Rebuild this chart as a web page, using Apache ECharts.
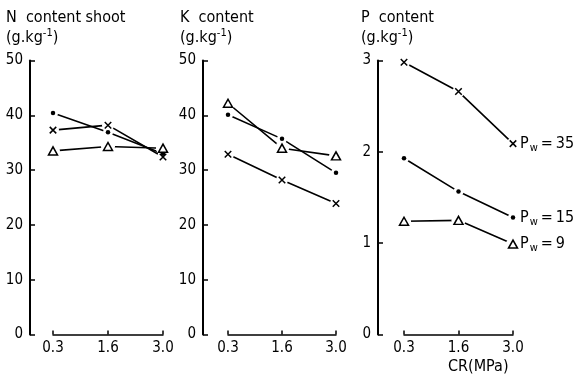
<!DOCTYPE html>
<html>
<head>
<meta charset="utf-8">
<script src="https://cdn.jsdelivr.net/npm/echarts@6/dist/echarts.min.js"></script>
<style>
html,body{margin:0;padding:0;background:#fff;}
#c{width:575px;height:377px;}
</style>
</head>
<body>
<div id="c"></div>
<script>
// ---- data ----
var categories = ['0.3', '1.6', '3.0'];
// N content shoot (g/kg)
var nDot   = [40.4, 36.9, 33.0];
var nCross = [37.3, 38.2, 32.4];
var nTri   = [33.5, 34.3, 34.0];
// K content (g/kg)
var kTri   = [42.2, 34.0, 32.6];
var kDot   = [40.1, 35.7, 29.5];
var kCross = [32.9, 28.2, 23.9];
// P content (g/kg)
var pCross = [2.98, 2.66, 2.09];
var pDot   = [1.93, 1.565, 1.28];
var pTri   = [1.24, 1.25, 0.99];
var pwLabels = ['35', '15', '9'];
var panelTitles = ['N  content shoot', 'K  content', 'P  content'];
var unitText = '(g.kg';
var xName = 'CR(MPa)';

var FONT = 'DejaVu Sans Condensed';
var grids = [
  {left: 53, right: 412, top: 60.5, bottom: 42.5},
  {left: 228, right: 239, top: 60.5, bottom: 42.5},
  {left: 404, right: 62, top: 60.5, bottom: 42.5}
];
var yOffsets = [23, 25, 26];
var yRanges = [[0, 50, 10], [0, 50, 10], [0, 3, 1]];

var crossPath = 'path://M0,0L10,10M10,0L0,10';
var markerDefs = {
  dot:   {symbol: 'circle', size: 4.5, color: '#000', border: 0, gap: 10},
  cross: {symbol: crossPath, size: 6.5, color: '#000', border: 1.5, gap: 12},
  tri:   {symbol: 'triangle', size: [9, 8], color: '#fff', border: 1.5, gap: 14}
};

var panels = [
  [['dot', nDot], ['cross', nCross], ['tri', nTri]],
  [['tri', kTri], ['dot', kDot], ['cross', kCross]],
  [['cross', pCross, pwLabels[0]], ['dot', pDot, pwLabels[1]], ['tri', pTri, pwLabels[2]]]
];

var xAxes = [], yAxes = [], series = [], titles = [];
grids.forEach(function (g, i) {
  xAxes.push({
    gridIndex: i, type: 'category', data: categories, boundaryGap: false,
    axisLine: {lineStyle: {color: '#000', width: 1.5}},
    axisTick: {inside: true, length: 4, lineStyle: {color: '#000', width: 1.5}},
    axisLabel: {color: '#000', fontFamily: FONT, fontSize: 15, margin: 6}
  });
  yAxes.push({
    gridIndex: i, type: 'value', min: yRanges[i][0], max: yRanges[i][1], interval: yRanges[i][2],
    offset: yOffsets[i], splitLine: {show: false},
    axisLine: {show: true, lineStyle: {color: '#000', width: 2}},
    axisTick: {show: true, inside: true, length: 5, lineStyle: {color: '#000', width: 1.5}},
    axisLabel: {color: '#000', fontFamily: FONT, fontSize: 15, margin: 7}
  });
  titles.push({
    text: panelTitles[i] + '\n{a|' + unitText + '}{s|-1}{a|)}',
    left: [6, 180, 361][i], top: 8, padding: 0,
    textStyle: {
      color: '#000', fontFamily: FONT, fontSize: 16, fontWeight: 'normal', lineHeight: 20,
      rich: {
        a: {color: '#000', fontFamily: FONT, fontSize: 16, lineHeight: 20},
        s: {color: '#000', fontFamily: FONT, fontSize: 11, lineHeight: 20, padding: [0, 0, 9, 0]}
      }
    }
  });
  panels[i].forEach(function (def) {
    var m = markerDefs[def[0]];
    var values = def[1];
    var lineS = {
      type: 'line', xAxisIndex: i, yAxisIndex: i, data: values, showSymbol: false, silent: true,
      lineStyle: {color: '#000', width: 1.6}, z: 2, animation: false
    };
    if (def[2] !== undefined) {
      lineS.endLabel = {
        show: true, distance: 7, color: '#000',
        formatter: '{p|P}{s|w}{e|=}{p|' + def[2] + '}',
        rich: {
          p: {fontFamily: FONT, fontSize: 16, color: '#000'},
          e: {fontFamily: FONT, fontSize: 16, color: '#000', padding: [0, 3, 0, 3]},
          s: {fontFamily: FONT, fontSize: 11, color: '#000', padding: [9, 0, 0, 1]}
        }
      };
    }
    series.push(lineS);
    series.push({
      type: 'scatter', xAxisIndex: i, yAxisIndex: i, data: values, symbol: 'circle',
      symbolSize: m.gap, itemStyle: {color: '#fff', opacity: 1}, z: 3, silent: true, animation: false
    });
    series.push({
      type: 'scatter', xAxisIndex: i, yAxisIndex: i, data: values, symbol: m.symbol,
      symbolSize: m.size, z: 4, silent: true, animation: false,
      itemStyle: {color: m.color, borderColor: '#000', borderWidth: m.border, opacity: 1}
    });
  });
});

var chart = echarts.init(document.getElementById('c'), null, {renderer: 'canvas'});
chart.setOption({
  backgroundColor: '#fff',
  animation: false,
  title: titles,
  grid: grids,
  xAxis: xAxes,
  yAxis: yAxes,
  series: series,
  graphic: [{
    type: 'text', left: 448, top: 359,
    style: {text: xName, font: '16px "' + FONT + '"', fill: '#000'}
  }]
});
</script>
</body>
</html>
